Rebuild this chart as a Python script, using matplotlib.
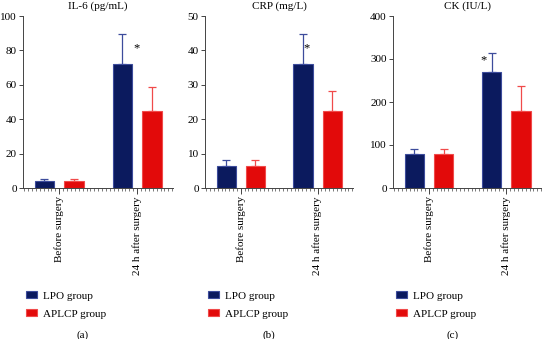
import matplotlib
matplotlib.use("Agg")
import matplotlib.pyplot as plt
import numpy as np
from matplotlib.ticker import MultipleLocator

plt.rcParams['font.family'] = ['Liberation Serif', 'DejaVu Serif']
plt.rcParams['font.size'] = 8

# DATA
categories = ["Before surgery", "24 h after surgery"]
groups = ["LPO group", "APLCP group"]
titles = ["IL-6 (pg/mL)", "CRP (mg/L)", "CK (IU/L)"]
captions = ["(a)", "(b)", "(c)"]

il6_lpo = [4, 72]
il6_lpo_err = [1, 17.5]
il6_aplcp = [4, 45]
il6_aplcp_err = [1, 14]

crp_lpo = [6.3, 36]
crp_lpo_err = [1.7, 8.8]
crp_aplcp = [6.3, 22.5]
crp_aplcp_err = [1.7, 5.7]

ck_lpo = [80, 270]
ck_lpo_err = [10, 45]
ck_aplcp = [80, 180]
ck_aplcp_err = [10, 57]

ymax = [100, 50, 400]
ystep = [20, 10, 100]
# asterisk positions (x in category units, y in data units)
star_pos = [(0.995, 81), (0.86, 40.5), (0.71, 297)]

panels = [
    (il6_lpo, il6_lpo_err, il6_aplcp, il6_aplcp_err),
    (crp_lpo, crp_lpo_err, crp_aplcp, crp_aplcp_err),
    (ck_lpo, ck_lpo_err, ck_aplcp, ck_aplcp_err),
]

# STYLE
navy = "#0b1a5e"
navy_edge = "#3d4c9c"
red = "#e20a0a"
red_edge = "#f04a4a"
axis_col = "#444444"

fig = plt.figure(figsize=(5.42, 3.39), dpi=100)
W, H = 542, 339
lefts = [23, 205, 393]
widths = [150, 148, 149]
caption_x = [83, 269, 453]

x = np.arange(len(categories))
bw = 0.25
off = 0.19

for i, (lpo, lpo_err, apl, apl_err) in enumerate(panels):
    ax = fig.add_axes([lefts[i] / W, (H - 188) / H, widths[i] / W, 172 / H])
    b1 = ax.bar(x - off, lpo, bw, color=navy, edgecolor=navy_edge, linewidth=0.8,
                label=groups[0], zorder=2)
    ax.errorbar(x - off, lpo, yerr=[np.zeros(len(lpo)), lpo_err], fmt='none',
                ecolor=navy_edge, elinewidth=0.9, capsize=3, capthick=0.9, zorder=1)
    b2 = ax.bar(x + off, apl, bw, color=red, edgecolor=red_edge, linewidth=0.8,
                label=groups[1], zorder=2)
    ax.errorbar(x + off, apl, yerr=[np.zeros(len(apl)), apl_err], fmt='none',
                ecolor=red_edge, elinewidth=0.9, capsize=3, capthick=0.9, zorder=1)

    ax.set_xlim(-0.465, 1.46)
    ax.set_ylim(0, ymax[i])
    ax.yaxis.set_major_locator(MultipleLocator(ystep[i]))
    ax.set_xticks(x)
    ax.set_xticklabels(categories, rotation=90)
    ax.xaxis.set_minor_locator(MultipleLocator(0.05))
    ax.tick_params(axis='x', which='major', length=4, width=0.7, color=axis_col, pad=2)
    ax.tick_params(axis='x', which='minor', length=2, width=0.5, color=axis_col)
    ax.tick_params(axis='y', length=3, width=0.7, color=axis_col, pad=1.5)
    for s in ['top', 'right']:
        ax.spines[s].set_visible(False)
    for s in ['left', 'bottom']:
        ax.spines[s].set_color(axis_col)
        ax.spines[s].set_linewidth(0.7)

    sx, sy = star_pos[i]
    ax.text(sx, sy, "*", ha='center', va='center', fontsize=9)

    ax.set_title(titles[i], fontsize=8, pad=0, y=1 + 10 / 172, va='center')
    ax.legend(handles=[b1, b2], loc='center left', frameon=False,
              bbox_to_anchor=((lefts[i] - 3) / W, 1 - 305 / H),
              bbox_transform=fig.transFigure,
              handlelength=1.0, handleheight=0.5,
              labelspacing=0.8, borderpad=0, handletextpad=0.6, fontsize=8)
    fig.text(caption_x[i] / W, 1 - 335 / H, captions[i], ha='center', va='center', fontsize=8)

fig.savefig("out.png", dpi=100)
